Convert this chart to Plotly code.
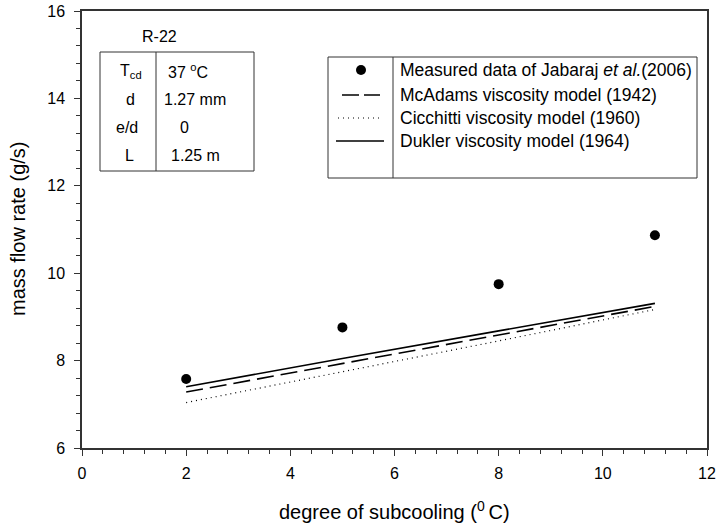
import plotly.graph_objects as go

# Data
subcooling = [2, 5, 8, 11]
measured = [7.58, 8.76, 9.75, 10.87]
mcadams = [7.28, 7.93, 8.58, 9.24]
cicchitti = [7.04, 7.74, 8.45, 9.17]
dukler = [7.40, 8.05, 8.68, 9.31]

legend_labels = [
    "Measured data of Jabaraj <i>et al.</i>(2006)",
    "McAdams viscosity model (1942)",
    "Cicchitti viscosity model (1960)",
    "Dukler viscosity model (1964)",
]
table_params = ["T<sub>cd</sub>", "d", "e/d", "L"]
table_values = ["37 <sup>o</sup>C", "1.27 mm", "0", "1.25 m"]
x_title = "degree of subcooling (<sup>0 </sup>C)"
y_title = "mass flow rate (g/s)"

FONT = "Liberation Sans, Arial, sans-serif"

fig = go.Figure()
fig.add_trace(go.Scatter(x=subcooling, y=dukler, mode="lines",
                         line=dict(color="black", width=1.6), showlegend=False))
fig.add_trace(go.Scatter(x=subcooling, y=mcadams, mode="lines",
                         line=dict(color="black", width=1.6, dash="17px,7px"), showlegend=False))
fig.add_trace(go.Scatter(x=subcooling, y=cicchitti, mode="lines",
                         line=dict(color="black", width=1.2, dash="1px,4px"), showlegend=False))
fig.add_trace(go.Scatter(x=subcooling, y=measured, mode="markers",
                         marker=dict(color="black", size=10), showlegend=False))

W, H = 718, 526
L, R, T, B = 82, 11, 11, 78
pw, ph = W - L - R, H - T - B


def px(x):
    return (x - L) / pw


def py(y):
    return 1 - (y - T) / ph


shapes = []
annotations = []


def text(t, x, y, size, xanchor="center", angle=0):
    annotations.append(dict(text=t, x=px(x), y=py(y), xref="paper", yref="paper",
                            xanchor=xanchor, yanchor="middle", showarrow=False,
                            textangle=angle,
                            font=dict(size=size, family=FONT, color="black")))


# Parameter table
shapes.append(dict(type="rect", xref="paper", yref="paper",
                   x0=px(100), x1=px(254), y0=py(171), y1=py(52),
                   line=dict(color="#333", width=1)))
shapes.append(dict(type="line", xref="paper", yref="paper",
                   x0=px(156), x1=px(156), y0=py(171), y1=py(52),
                   line=dict(color="#333", width=1)))
text("R-22", 159, 36, 16)
rows_y = [71, 99, 127, 155]
par_x = [131, 130, 127, 129]
val_x = [166, 162, 178, 169]
for p, v, ry, ax, vx in zip(table_params, table_values, rows_y, par_x, val_x):
    text(p, ax, ry, 16)
    text(v, vx, ry, 16, xanchor="left")

# Legend box
shapes.append(dict(type="rect", xref="paper", yref="paper",
                   x0=px(328), x1=px(697), y0=py(178), y1=py(57),
                   line=dict(color="#333", width=1)))
shapes.append(dict(type="line", xref="paper", yref="paper",
                   x0=px(393), x1=px(393), y0=py(178), y1=py(57),
                   line=dict(color="#333", width=1)))
leg_y = [70, 95, 118, 141]
shapes.append(dict(type="circle", xref="paper", yref="paper",
                   x0=px(356), x1=px(366), y0=py(75), y1=py(65),
                   fillcolor="black", line=dict(color="black", width=0)))
shapes.append(dict(type="line", xref="paper", yref="paper",
                   x0=px(342), x1=px(380), y0=py(95), y1=py(95),
                   line=dict(color="black", width=1.6, dash="17px,5px")))
shapes.append(dict(type="line", xref="paper", yref="paper",
                   x0=px(338), x1=px(382), y0=py(118), y1=py(118),
                   line=dict(color="black", width=1.2, dash="1px,4px")))
shapes.append(dict(type="line", xref="paper", yref="paper",
                   x0=px(336), x1=px(384), y0=py(141), y1=py(141),
                   line=dict(color="black", width=1.6)))
for lab, ly in zip(legend_labels, leg_y):
    text(lab, 398, ly, 17.5, xanchor="left")

# Axis titles
text(x_title, 394, 510, 20)
text(y_title, 18, 229, 20, angle=-90)

fig.update_layout(
    width=W, height=H,
    margin=dict(l=L, r=R, t=T, b=B, autoexpand=False),
    plot_bgcolor="white", paper_bgcolor="white",
    font=dict(family=FONT, size=16, color="black"),
    shapes=shapes, annotations=annotations,
    xaxis=dict(range=[0, 12], tickvals=[0, 2, 4, 6, 8, 10, 12], automargin=False,
               ticks="outside", ticklen=6, tickwidth=1, tickcolor="#333",
               showline=True, linecolor="#333", linewidth=1.5, mirror=True,
               showgrid=False, zeroline=False, ticklabelstandoff=4,
               minor=dict(dtick=0.4, ticks="outside", ticklen=4, tickcolor="#333", showgrid=False),
               tickfont=dict(size=16)),
    yaxis=dict(range=[6, 16], tickvals=[6, 8, 10, 12, 14, 16], automargin=False,
               ticks="outside", ticklen=6, tickwidth=1, tickcolor="#333",
               showline=True, linecolor="#333", linewidth=1.5, mirror=True,
               showgrid=False, zeroline=False, ticklabelstandoff=6,
               minor=dict(dtick=0.4, ticks="outside", ticklen=4, tickcolor="#333", showgrid=False),
               tickfont=dict(size=16)),
)

fig.write_html("out.html")
